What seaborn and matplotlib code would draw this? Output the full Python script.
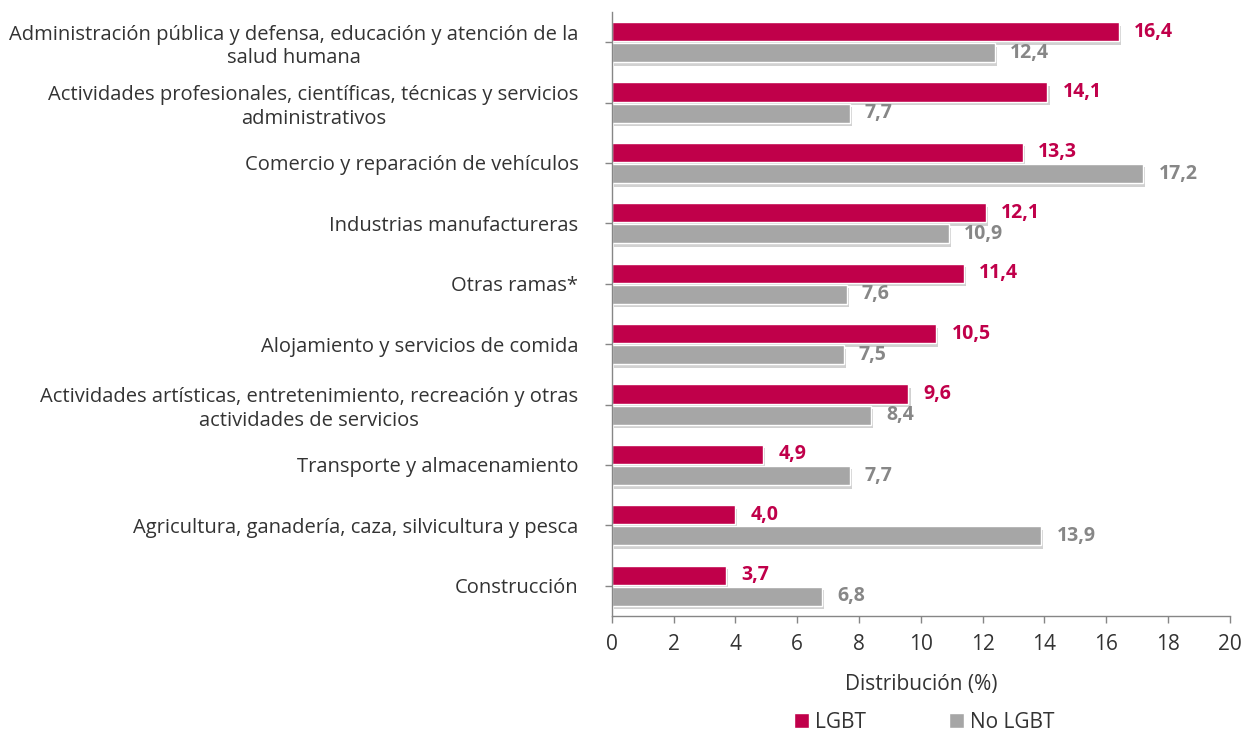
import matplotlib
matplotlib.use("Agg")
import matplotlib.pyplot as plt
import matplotlib.patheffects as pe
import seaborn as sns
import pandas as pd

# Ramas de actividad
ramas = [
    "Administración pública y defensa, educación y atención de la\nsalud humana",
    "Actividades profesionales, científicas, técnicas y servicios\nadministrativos",
    "Comercio y reparación de vehículos",
    "Industrias manufactureras",
    "Otras ramas*",
    "Alojamiento y servicios de comida",
    "Actividades artísticas, entretenimiento, recreación y otras\nactividades de servicios",
    "Transporte y almacenamiento",
    "Agricultura, ganadería, caza, silvicultura y pesca",
    "Construcción",
]
lgbt = [16.4, 14.1, 13.3, 12.1, 11.4, 10.5, 9.6, 4.9, 4.0, 3.7]
no_lgbt = [12.4, 7.7, 17.2, 10.9, 7.6, 7.5, 8.4, 7.7, 13.9, 6.8]
grupos = ["LGBT", "No LGBT"]

RED = "#C0004A"
GREY = "#A6A6A6"
GREY_TXT = "#878787"

df = pd.DataFrame({
    "rama": ramas * 2,
    "valor": lgbt + no_lgbt,
    "grupo": [grupos[0]] * len(ramas) + [grupos[1]] * len(ramas),
})

sns.set_style("white")
plt.rcParams["font.family"] = ["Open Sans", "DejaVu Sans"]

fig = plt.figure(figsize=(12.46, 7.34), dpi=100)
ax = fig.add_axes([0.491, 0.1608, 0.496, 0.8229])

sns.barplot(data=df, x="valor", y="rama", hue="grupo", order=ramas,
            hue_order=grupos, palette=[RED, GREY], orient="h",
            width=0.7, gap=0.1, saturation=1, ax=ax, legend=True)

shadow = [pe.SimplePatchShadow(offset=(1.5, -2.5), shadow_rgbFace="#9a9a9a", alpha=0.45), pe.Normal()]
for cont, col in zip(ax.containers, [RED, GREY_TXT]):
    for bar in cont:
        bar.set_path_effects(shadow)
    labels = [f"{b.get_width():.1f}".replace(".", ",") for b in cont]
    ax.bar_label(cont, labels=labels, padding=11, color=col,
                 fontsize=14, fontweight="bold")

ax.set_xlim(0, 20)
ax.set_ylim(len(ramas) - 0.5, -0.5)
ax.set_xticks(range(0, 21, 2))
ax.set_xlabel("Distribución (%)", fontsize=15, color="#333333", labelpad=14)
ax.set_ylabel("")

ax.tick_params(axis="y", left=True, length=5, color="#868686", width=1, direction="out",
               pad=19, labelsize=14.5, labelcolor="#333333")
ax.tick_params(axis="x", bottom=True, length=5, color="#868686", width=1, direction="out",
               labelsize=15, labelcolor="#333333", pad=8)
for lab in ax.get_yticklabels():
    lab.set_multialignment("center")
    lab.set_linespacing(1.25)

for s in ["top", "right"]:
    ax.spines[s].set_visible(False)
for s in ["left", "bottom"]:
    ax.spines[s].set_color("#868686")
    ax.spines[s].set_linewidth(1)

handles, labs = ax.get_legend_handles_labels()
ax.get_legend().remove()
fig.legend(handles, labs, loc="center", bbox_to_anchor=(0.742, 1 - 722 / 734), ncol=2,
           frameon=False, fontsize=15, handlelength=0.7, handleheight=0.7,
           handletextpad=0.3, columnspacing=4.0, labelcolor="#333333")

fig.savefig("out.png", dpi=100)
